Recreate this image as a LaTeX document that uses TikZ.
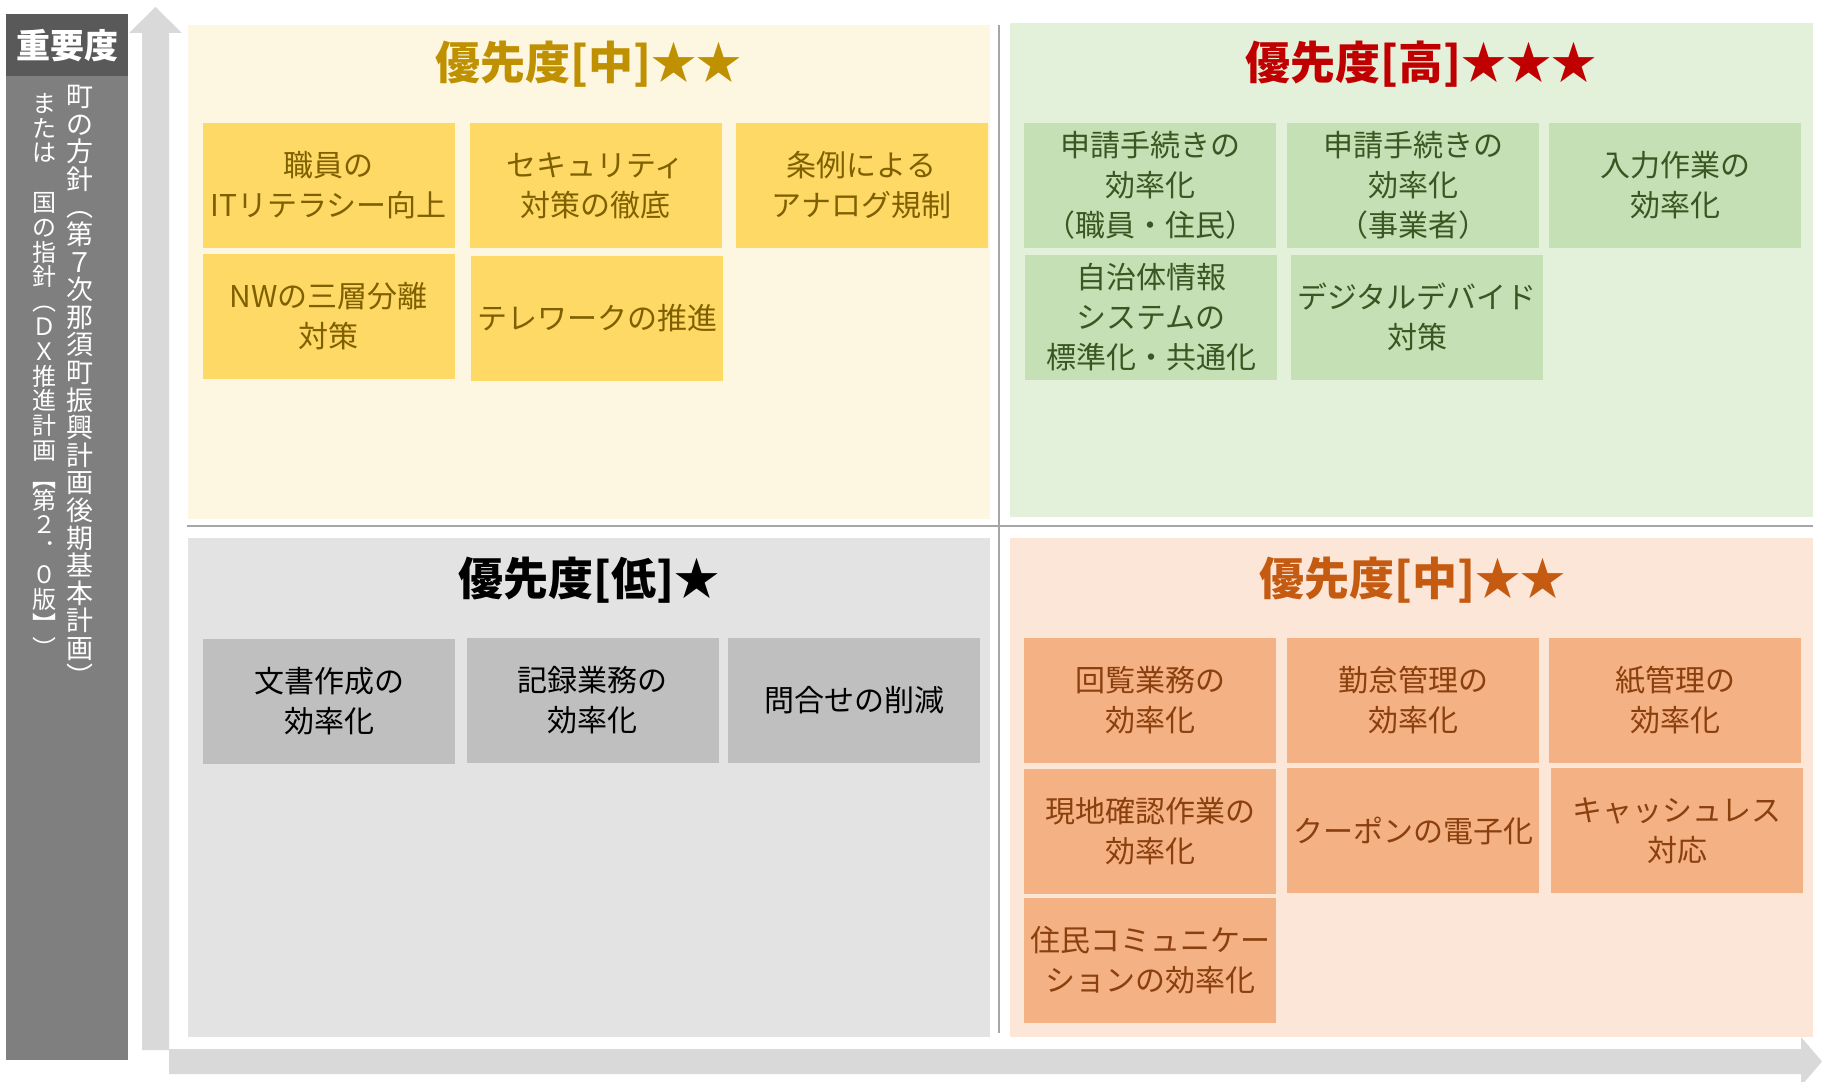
\documentclass[tikz,border=0pt]{standalone}
\usepackage{fontspec}
\setmainfont{Noto Sans CJK JP}
\definecolor{panelc}{HTML}{7F7F7F}
\definecolor{headc}{HTML}{595959}
\definecolor{arrowc}{HTML}{D9D9D9}
\definecolor{divc}{HTML}{A6A6A6}
\definecolor{ybg}{HTML}{FDF6E1}
\definecolor{ybx}{HTML}{FFD966}
\definecolor{ytx}{HTML}{7F6000}
\definecolor{yti}{HTML}{BF9000}
\definecolor{gbg}{HTML}{E3F0DA}
\definecolor{gbx}{HTML}{C5E0B4}
\definecolor{gtx}{HTML}{385723}
\definecolor{gti}{HTML}{C00000}
\definecolor{rbg}{HTML}{E3E3E3}
\definecolor{rbx}{HTML}{BFBFBF}
\definecolor{pbg}{HTML}{FBE6D8}
\definecolor{pbx}{HTML}{F4B183}
\definecolor{ptx}{HTML}{8A3F0E}
\definecolor{pti}{HTML}{C55A11}
\tikzset{
  quad/.style={inner sep=0pt, outer sep=0pt, minimum width=802pt},
  cbox/.style={inner sep=0pt, outer sep=0pt, align=center,
    font=\fontsize{30pt}{40pt}\selectfont, minimum width=252pt, minimum height=125pt},
  ybox/.style={cbox, fill=ybx, text=ytx},
  gbox/.style={cbox, fill=gbx, text=gtx},
  rbox/.style={cbox, fill=rbx, text=black},
  pbox/.style={cbox, fill=pbx, text=ptx},
  ttl/.style={inner sep=0pt, font=\bfseries\fontsize{45pt}{50pt}\selectfont},
  divider/.style={draw=divc, line width=2.5pt},
  vcol/.style={inner sep=0pt, align=center, anchor=north, text=white},
}
\begin{document}
\begin{tikzpicture}[x=1pt,y=-1pt]
\useasboundingbox (0,0) rectangle (1822,1081);
\fill[white] (0,0) rectangle (1822,1081);

% axis arrows
\fill[arrowc] (142,1050) -- (142,33) -- (129,33) -- (155.5,7) -- (182,33) -- (169,33) -- (169,1050) -- cycle;
\fill[arrowc] (169,1049) -- (1801,1049) -- (1801,1037) -- (1822,1061.5) -- (1801,1086) -- (1801,1074) -- (169,1074) -- cycle;

% left panel
\node[fill=panelc, inner sep=0pt, minimum width=122pt, minimum height=1046pt, anchor=north west] (panel) at (6,14) {};
\node[fill=headc, inner sep=0pt, minimum width=122pt, minimum height=62pt, anchor=north west,
      text=white, font=\bfseries\fontsize{34pt}{36pt}\selectfont] (head) at (6,14) {重要度};
\node[vcol, font=\fontsize{27pt}{27.6pt}\selectfont] (col1) at (80,85)
  {町\\の\\方\\針\\︵\\第\\７\\次\\那\\須\\町\\振\\興\\計\\画\\後\\期\\基\\本\\計\\画\\︶};
\node[vcol, font=\fontsize{24pt}{24.8pt}\selectfont] (col2) at (44,93)
  {ま\\た\\は\\　\\国\\の\\指\\針\\︵\\Ｄ\\Ｘ\\推\\進\\計\\画\\[3pt]︻\\[-3pt]第\\２\\\makebox[1em][l]{\hspace{.5em}\raisebox{.55em}{．}}\\０\\版\\︼\\︶};

% quadrants
\node[quad, fill=ybg, minimum height=494pt] (qy) at (589,272) {};
\node[quad, fill=gbg, minimum width=803pt, minimum height=494pt] (qg) at (1411.5,270) {};
\node[quad, fill=rbg, minimum height=499pt] (qr) at (589,787.5) {};
\node[quad, fill=pbg, minimum width=803pt, minimum height=499pt] (qp) at (1411.5,787.5) {};

% dividers
\coordinate (vt) at (999,25);
\coordinate (vb) at (999,1033);
\coordinate (hl) at (187,526);
\coordinate (hr) at (1813,526);
\draw[divider] (vt) -- (vb);
\draw[divider] (hl) -- (hr);

% titles
\node[ttl, text=yti] (ty) at (588,64) {優先度[中]★★};
\node[ttl, text=gti] (tg) at (1421,64) {優先度[高]★★★};
\node[ttl, text=black] (tr) at (589,580) {優先度[低]★};
\node[ttl, text=pti] (tp) at (1412,580) {優先度[中]★★};

% yellow boxes
\node[ybox] (y1) at (328.5,185.5) {職員の\\ITリテラシー向上};
\node[ybox] (y2) at (595.5,185.5) {セキュリティ\\対策の徹底};
\node[ybox] (y3) at (861.5,185.5) {条例による\\アナログ規制};
\node[ybox] (y4) at (328.5,316.5) {NWの三層分離\\対策};
\node[ybox] (y5) at (597,318) {テレワークの推進};

% green boxes
\node[gbox] (g1) at (1150,185.5) {申請手続きの\\効率化\\（職員・住民）};
\node[gbox] (g2) at (1413,185.5) {申請手続きの\\効率化\\（事業者）};
\node[gbox] (g3) at (1675,185.5) {入力作業の\\効率化};
\node[gbox] (g4) at (1151,317) {自治体情報\\システムの\\標準化・共通化};
\node[gbox] (g5) at (1417,317) {デジタルデバイド\\対策};

% gray boxes
\node[rbox] (r1) at (329,701) {文書作成の\\効率化};
\node[rbox] (r2) at (592.5,700.5) {記録業務の\\効率化};
\node[rbox] (r3) at (854,700.5) {問合せの削減};

% peach boxes
\node[pbox] (p1) at (1150,700.5) {回覧業務の\\効率化};
\node[pbox] (p2) at (1413,700.5) {勤怠管理の\\効率化};
\node[pbox] (p3) at (1675,700.5) {紙管理の\\効率化};
\node[pbox] (p4) at (1150,831) {現地確認作業の\\効率化};
\node[pbox] (p5) at (1413,830.5) {クーポンの電子化};
\node[pbox] (p6) at (1677,830.5) {キャッシュレス\\対応};
\node[pbox] (p7) at (1150,960) {住民コミュニケー\\ションの効率化};
\end{tikzpicture}
\end{document}
